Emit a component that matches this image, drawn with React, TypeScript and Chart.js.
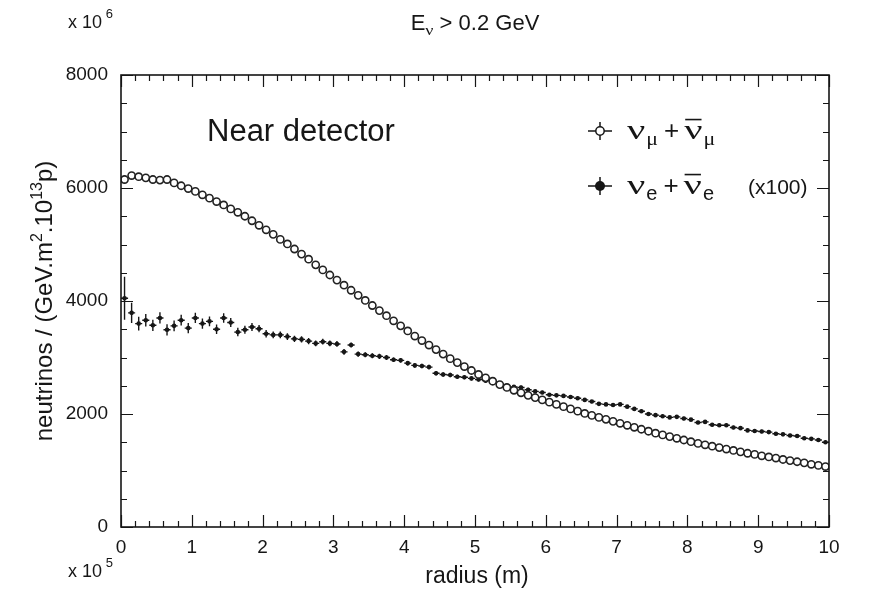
import React, { useEffect, useRef } from "react";
import { Chart, registerables } from "chart.js";

Chart.register(...registerables);

// Bin centres along the radius, in units of 10^5 m
const radius = [
  0.05, 0.15, 0.25, 0.35, 0.45, 0.55, 0.65, 0.75, 0.85, 0.95,
  1.05, 1.15, 1.25, 1.35, 1.45, 1.55, 1.65, 1.75, 1.85, 1.95,
  2.05, 2.15, 2.25, 2.35, 2.45, 2.55, 2.65, 2.75, 2.85, 2.95,
  3.05, 3.15, 3.25, 3.35, 3.45, 3.55, 3.65, 3.75, 3.85, 3.95,
  4.05, 4.15, 4.25, 4.35, 4.45, 4.55, 4.65, 4.75, 4.85, 4.95,
  5.05, 5.15, 5.25, 5.35, 5.45, 5.55, 5.65, 5.75, 5.85, 5.95,
  6.05, 6.15, 6.25, 6.35, 6.45, 6.55, 6.65, 6.75, 6.85, 6.95,
  7.05, 7.15, 7.25, 7.35, 7.45, 7.55, 7.65, 7.75, 7.85, 7.95,
  8.05, 8.15, 8.25, 8.35, 8.45, 8.55, 8.65, 8.75, 8.85, 8.95,
  9.05, 9.15, 9.25, 9.35, 9.45, 9.55, 9.65, 9.75, 9.85, 9.95,
];

// nu_mu + anti-nu_mu flux (x 10^6)
const numuFlux = [
  6150, 6220, 6200, 6180, 6150, 6140, 6150, 6090, 6040, 5990,
  5940, 5880, 5820, 5760, 5700, 5630, 5570, 5500, 5420, 5340,
  5260, 5180, 5090, 5010, 4920, 4830, 4740, 4640, 4550, 4460,
  4370, 4280, 4190, 4100, 4010, 3920, 3830, 3740, 3650, 3560,
  3470, 3380, 3300, 3220, 3140, 3060, 2980, 2910, 2840, 2770,
  2700, 2640, 2580, 2520, 2470, 2420, 2375, 2330, 2290, 2250,
  2210, 2170, 2130, 2090, 2050, 2010, 1975, 1940, 1905, 1870,
  1835, 1800, 1765, 1730, 1695, 1660, 1630, 1600, 1570, 1540,
  1510, 1480, 1455, 1430, 1405, 1380, 1355, 1330, 1305, 1285,
  1260, 1240, 1220, 1195, 1175, 1155, 1135, 1110, 1090, 1070,
];

// nu_e + anti-nu_e flux, scaled by 100 (x 10^6)
const nueFlux = [
  4050, 3790, 3600, 3660, 3570, 3700, 3490, 3560, 3660, 3520,
  3700, 3600, 3640, 3500, 3700, 3620, 3450, 3490, 3540, 3510,
  3420, 3400, 3400, 3370, 3330, 3320, 3290, 3250, 3280, 3250,
  3240, 3100, 3220, 3060, 3050, 3030, 3020, 3000, 2960, 2950,
  2900, 2860, 2850, 2830, 2720, 2700, 2690, 2660, 2650, 2630,
  2610, 2590, 2560, 2530, 2500, 2480, 2470, 2430, 2400, 2380,
  2340, 2330, 2320, 2300, 2280, 2250, 2220, 2180, 2170, 2160,
  2170, 2130, 2090, 2050, 2000, 1980, 1960, 1940, 1950, 1920,
  1900, 1850, 1860, 1810, 1800, 1800, 1760, 1750, 1710, 1700,
  1690, 1680, 1650, 1640, 1620, 1610, 1570, 1560, 1540, 1500,
];

// Statistical uncertainty on the scaled nu_e flux
const nueError = [
  380, 180, 120, 110, 100, 100, 100, 95, 95, 90,
  90, 90, 85, 85, 85, 80, 75, 70, 70, 65,
  65, 60, 60, 60, 55, 55, 55, 50, 50, 50,
  50, 50, 45, 45, 45, 45, 45, 45, 40, 40,
  40, 40, 40, 40, 40, 40, 40, 35, 35, 35,
  35, 35, 35, 35, 35, 35, 35, 35, 30, 30,
  30, 30, 30, 30, 30, 30, 30, 30, 30, 30,
  30, 30, 30, 30, 30, 30, 30, 30, 30, 30,
  30, 30, 30, 30, 30, 30, 30, 30, 30, 30,
  30, 30, 30, 30, 30, 30, 30, 30, 30, 30,
];

const binHalfWidth = 0.05;

const xTicks = [0, 1, 2, 3, 4, 5, 6, 7, 8, 9, 10];
const yTicks = [0, 2000, 4000, 6000, 8000];

const SANS = '"Liberation Sans", Arial, Helvetica, sans-serif';
const GREEK = '"Liberation Serif", "Times New Roman", serif';
const INK = "#161616";

type Part = {
  text: string;
  size: number;
  dy?: number;
  family?: string;
  bar?: boolean;
  gap?: number;
  stretch?: number;
};

function partWidth(ctx: CanvasRenderingContext2D, p: Part) {
  ctx.font = `${p.size}px ${p.family || SANS}`;
  return ctx.measureText(p.text).width * (p.stretch || 1);
}

function partsWidth(ctx: CanvasRenderingContext2D, parts: Part[]) {
  return parts.reduce((w, p) => w + partWidth(ctx, p) + (p.gap || 0), 0);
}

function drawParts(ctx: CanvasRenderingContext2D, parts: Part[], x: number, y: number) {
  let cx = x;
  ctx.textAlign = "left";
  ctx.textBaseline = "alphabetic";
  for (const p of parts) {
    const w = partWidth(ctx, p);
    const by = y + (p.dy || 0);
    ctx.save();
    ctx.translate(cx, by);
    ctx.scale(p.stretch || 1, 1);
    ctx.font = `${p.size}px ${p.family || SANS}`;
    ctx.fillText(p.text, 0, 0);
    ctx.restore();
    if (p.bar) {
      ctx.save();
      ctx.lineWidth = 1.6;
      ctx.beginPath();
      ctx.moveTo(cx + 1, by - p.size * 0.72);
      ctx.lineTo(cx + w - 1, by - p.size * 0.72);
      ctx.stroke();
      ctx.restore();
    }
    cx += w + (p.gap || 0);
  }
  return cx;
}

// Frame with inward ticks on all four sides
const frameTicks = {
  id: "frameTicks",
  afterDatasetsDraw(chart: any) {
    const { ctx, chartArea: a, scales } = chart;
    const sx = scales.x;
    const sy = scales.y;
    ctx.save();
    ctx.strokeStyle = INK;
    ctx.lineWidth = 1.2;
    ctx.beginPath();
    for (let i = 0; i <= 50; i++) {
      const px = Math.round(sx.getPixelForValue(i * 0.2)) + 0.5;
      const len = i % 5 === 0 ? 12 : 6;
      ctx.moveTo(px, a.bottom);
      ctx.lineTo(px, a.bottom - len);
      ctx.moveTo(px, a.top);
      ctx.lineTo(px, a.top + len);
    }
    for (let i = 0; i <= 16; i++) {
      const py = Math.round(sy.getPixelForValue(i * 500)) + 0.5;
      const len = i % 4 === 0 ? 12 : 6;
      ctx.moveTo(a.left, py);
      ctx.lineTo(a.left + len, py);
      ctx.moveTo(a.right, py);
      ctx.lineTo(a.right - len, py);
    }
    ctx.stroke();
    ctx.lineWidth = 1.6;
    ctx.strokeRect(a.left, a.top, a.right - a.left, a.bottom - a.top);
    ctx.restore();
  },
};

// Bin-width and error bars for the nu_e points
const errorBars = {
  id: "errorBars",
  beforeDatasetsDraw(chart: any) {
    const { ctx, scales } = chart;
    const sx = scales.x;
    const sy = scales.y;
    ctx.save();
    ctx.strokeStyle = INK;
    ctx.lineWidth = 1.4;
    ctx.beginPath();
    radius.forEach((r, i) => {
      const px = sx.getPixelForValue(r);
      const py = sy.getPixelForValue(nueFlux[i]);
      ctx.moveTo(sx.getPixelForValue(r - binHalfWidth), py);
      ctx.lineTo(sx.getPixelForValue(r + binHalfWidth), py);
      ctx.moveTo(px, sy.getPixelForValue(nueFlux[i] + nueError[i]));
      ctx.lineTo(px, sy.getPixelForValue(nueFlux[i] - nueError[i]));
    });
    ctx.stroke();
    ctx.restore();
  },
};

// Titles, exponent labels, axis titles and legend
const annotations = {
  id: "annotations",
  afterDraw(chart: any) {
    const { ctx, chartArea: a } = chart;
    const cxMid = (a.left + a.right) / 2;
    ctx.save();
    ctx.fillStyle = INK;
    ctx.strokeStyle = INK;

    // title
    const title: Part[] = [
      { text: "E", size: 22 },
      { text: "ν", size: 15, dy: 5, family: GREEK, stretch: 1.2 },
      { text: " > 0.2 GeV", size: 22 },
    ];
    drawParts(ctx, title, cxMid - partsWidth(ctx, title) / 2, 30);

    // axis multipliers
    drawParts(ctx, [{ text: "x 10", size: 18 }, { text: " 6", size: 13, dy: -10 }], 68, 28);
    drawParts(ctx, [{ text: "x 10", size: 18 }, { text: " 5", size: 13, dy: -10 }], 68, 577);

    // x axis title
    ctx.font = `23px ${SANS}`;
    ctx.textAlign = "center";
    ctx.fillText("radius (m)", cxMid + 2, 583);

    // y axis title
    const ylab: Part[] = [
      { text: "neutrinos / (GeV.m", size: 24 },
      { text: "2", size: 16, dy: -10 },
      { text: ".10", size: 24 },
      { text: "13", size: 16, dy: -10 },
      { text: "p)", size: 24 },
    ];
    ctx.save();
    ctx.translate(52, (a.top + a.bottom) / 2);
    ctx.rotate(-Math.PI / 2);
    drawParts(ctx, ylab, -partsWidth(ctx, ylab) / 2, 0);
    ctx.restore();

    // inset label
    ctx.font = `31px ${SANS}`;
    ctx.textAlign = "left";
    ctx.fillText("Near detector", 207, 141);

    // legend markers
    ctx.lineWidth = 1.5;
    const mx = 600;
    const r1 = 131;
    const r2 = 186;
    ctx.beginPath();
    ctx.moveTo(mx - 12, r1);
    ctx.lineTo(mx - 4, r1);
    ctx.moveTo(mx + 4, r1);
    ctx.lineTo(mx + 12, r1);
    ctx.moveTo(mx, r1 - 9);
    ctx.lineTo(mx, r1 - 4);
    ctx.moveTo(mx, r1 + 4);
    ctx.lineTo(mx, r1 + 9);
    ctx.stroke();
    ctx.beginPath();
    ctx.arc(mx, r1, 4.2, 0, Math.PI * 2);
    ctx.fillStyle = "#fff";
    ctx.fill();
    ctx.stroke();
    ctx.fillStyle = INK;
    ctx.beginPath();
    ctx.moveTo(mx - 12, r2);
    ctx.lineTo(mx + 12, r2);
    ctx.moveTo(mx, r2 - 9);
    ctx.lineTo(mx, r2 + 9);
    ctx.stroke();
    ctx.beginPath();
    ctx.arc(mx, r2, 5, 0, Math.PI * 2);
    ctx.fill();

    // legend text
    const row1: Part[] = [
      { text: "ν", size: 27, family: GREEK, stretch: 1.5, gap: 1 },
      { text: "μ", size: 19, dy: 6, family: GREEK, stretch: 1.15, gap: 6 },
      { text: "+", size: 26, gap: 5 },
      { text: "ν", size: 27, family: GREEK, stretch: 1.5, bar: true, gap: 1 },
      { text: "μ", size: 19, dy: 6, family: GREEK, stretch: 1.15 },
    ];
    const row2: Part[] = [
      { text: "ν", size: 27, family: GREEK, stretch: 1.5, gap: 1 },
      { text: "e", size: 20, dy: 6, gap: 6 },
      { text: "+", size: 26, gap: 5 },
      { text: "ν", size: 27, family: GREEK, stretch: 1.5, bar: true, gap: 1 },
      { text: "e", size: 20, dy: 6 },
    ];
    drawParts(ctx, row1, 627, r1 + 8);
    drawParts(ctx, row2, 627, r2 + 8);
    ctx.font = `21px ${SANS}`;
    ctx.fillText("(x100)", 748, r2 + 8);

    ctx.restore();
  },
};

export default function App() {
  const canvasRef = useRef<HTMLCanvasElement | null>(null);

  useEffect(() => {
    if (!canvasRef.current) return;
    const tickFont = { family: SANS, size: 19 };
    const chart = new Chart(canvasRef.current, {
      type: "scatter",
      data: {
        datasets: [
          {
            label: "numu",
            data: radius.map((r, i) => ({ x: r, y: numuFlux[i] })),
            pointRadius: 3.6,
            pointBorderWidth: 1.6,
            pointBorderColor: "#222",
            pointBackgroundColor: "#fff",
            showLine: false,
            order: 1,
          },
          {
            label: "nue",
            data: radius.map((r, i) => ({ x: r, y: nueFlux[i] })),
            pointRadius: 2.3,
            pointBorderWidth: 0,
            pointBackgroundColor: INK,
            showLine: false,
            order: 2,
          },
        ],
      },
      options: {
        responsive: false,
        maintainAspectRatio: false,
        animation: false,
        events: [],
        layout: { padding: { top: 75, right: 55, left: 0, bottom: 0 } },
        plugins: {
          legend: { display: false },
          tooltip: { enabled: false },
        },
        scales: {
          x: {
            type: "linear",
            min: 0,
            max: 10,
            grid: { display: false, drawTicks: false },
            border: { display: false },
            ticks: {
              font: tickFont,
              color: INK,
              padding: 9,
              maxRotation: 0,
              autoSkip: false,
              callback: (v: any) => String(v),
            },
            afterBuildTicks: (s: any) => {
              s.ticks = xTicks.map((v) => ({ value: v }));
            },
            afterFit: (s: any) => {
              s.height = 63;
            },
          },
          y: {
            type: "linear",
            min: 0,
            max: 8000,
            grid: { display: false, drawTicks: false },
            border: { display: false },
            ticks: {
              font: tickFont,
              color: INK,
              padding: 13,
              autoSkip: false,
              callback: (v: any) => String(v),
            },
            afterBuildTicks: (s: any) => {
              s.ticks = yTicks.map((v) => ({ value: v }));
            },
            afterFit: (s: any) => {
              s.width = 121;
            },
          },
        },
      },
      plugins: [errorBars, frameTicks, annotations],
    });
    return () => chart.destroy();
  }, []);

  return (
    <div style={{ position: "fixed", left: 0, top: 0, width: 884, height: 590, background: "#fff" }}>
      <canvas ref={canvasRef} width={884} height={590} style={{ display: "block" }} />
    </div>
  );
}
